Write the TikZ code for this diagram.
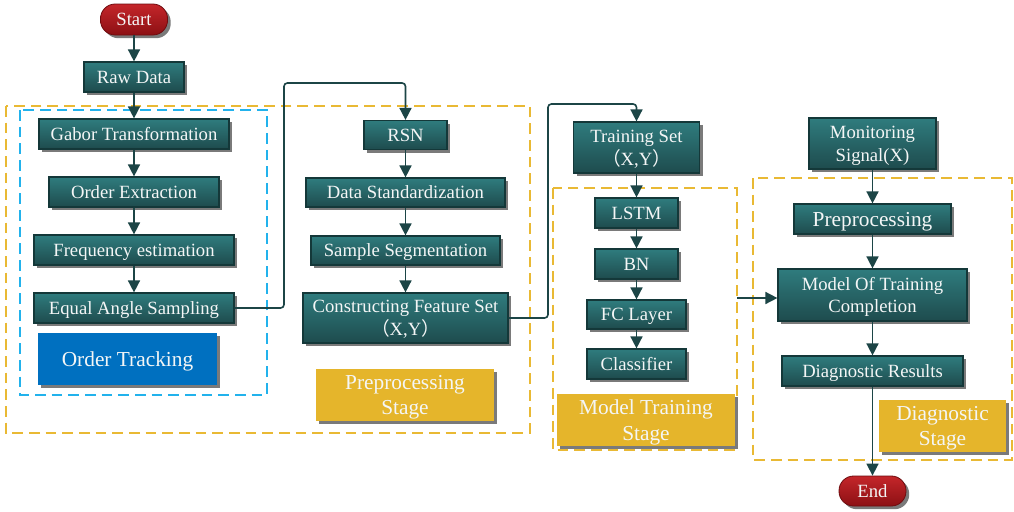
\documentclass[tikz,border=0pt]{standalone}
\usepackage{fontspec}
\setmainfont{Liberation Serif}
\newfontfamily\cjk{Noto Sans CJK SC}
\usetikzlibrary{arrows.meta,shadows,backgrounds}

\definecolor{tealtop}{HTML}{2F7C7E}
\definecolor{tealbot}{HTML}{1E4B4D}
\definecolor{tealedge}{HTML}{143839}
\definecolor{linkcol}{HTML}{1C4546}
\definecolor{redtop}{HTML}{C4262A}
\definecolor{redbot}{HTML}{8C1014}
\definecolor{rededge}{HTML}{6E0C0F}
\definecolor{stageyellow}{HTML}{E5B52B}
\definecolor{dashyellow}{HTML}{E9B934}
\definecolor{dashblue}{HTML}{22B2EC}
\definecolor{trackblue}{HTML}{0070C0}
\definecolor{shadowgray}{HTML}{7A7A7A}
\definecolor{lighttext}{HTML}{F4F6F6}

\tikzset{
  shade drop/.style={drop shadow={shadow xshift=2.4pt, shadow yshift=-2.4pt, fill=shadowgray, opacity=1}},
  wd/.style={minimum width=#1*0.75pt},
  ht/.style={minimum height=#1*0.75pt},
  % single-line labels: centre the capitals, ignore descenders
  oneline/.style={text height=9.3pt, text depth=0pt},
  onelinebig/.style={text height=10.6pt, text depth=0pt},
  % two-line labels: ignore the descenders of the last line
  twoline/.style={text depth=0pt},
  box/.style={shade drop, draw=tealedge, line width=0.9pt,
    top color=tealtop, bottom color=tealbot, text=lighttext,
    font=\fontsize{14}{17}\selectfont, align=center, inner sep=0pt},
  term/.style={shade drop, draw=rededge, line width=0.6pt,
    top color=redtop, bottom color=redbot, text=lighttext,
    rounded corners=11pt, font=\fontsize{14}{17}\selectfont, inner sep=0pt, oneline},
  stagebox/.style={shade drop, fill=stageyellow, text=lighttext,
    font=\fontsize{16}{19}\selectfont, align=center, inner sep=0pt},
  trackbox/.style={shade drop, fill=trackblue, text=lighttext,
    font=\fontsize{16}{19}\selectfont, align=center, inner sep=0pt},
  conn/.style={draw=linkcol, line width=1.2pt, rounded corners=2.5pt,
    -{Triangle[length=9pt,width=9pt]}},
  ydash/.style={draw=dashyellow, line width=1.5pt, dash pattern=on 8pt off 4.5pt},
  bdash/.style={draw=dashblue, line width=1.5pt, dash pattern=on 8pt off 4.5pt},
}

\begin{document}
\begin{tikzpicture}[x=0.75pt, y=-0.75pt]
\useasboundingbox (0,0) rectangle (1014,511);

% ---- order tracking column ----
\node[term, wd=67, ht=31] (start) at (134,19.5) {Start};
\node[box, oneline, wd=100, ht=30] (raw) at (134,77) {Raw Data};
\node[box, oneline, wd=190, ht=30] (gabor) at (134,134) {Gabor Transformation};
\node[box, oneline, wd=170, ht=30] (order) at (134,192) {Order Extraction};
\node[box, oneline, wd=200, ht=30] (freq) at (134,250) {Frequency estimation};
\node[box, oneline, wd=200, ht=30] (equal) at (134,308) {Equal Angle Sampling};
\node[trackbox, onelinebig, wd=179, ht=52] (track) at (127.5,359) {Order Tracking};

% ---- preprocessing column ----
\node[box, oneline, wd=83, ht=29] (rsn) at (405.5,135) {RSN};
\node[box, oneline, wd=199, ht=29] (stdz) at (405.5,192.5) {Data Standardization};
\node[box, oneline, wd=189, ht=29] (seg) at (405.5,250.5) {Sample Segmentation};
\node[box, twoline, wd=205, ht=50] (feat) at (405.5,318) {Constructing Feature Set\\{\cjk （}X,Y{\cjk ）}};
\node[stagebox, twoline, wd=178, ht=52] (prepstage) at (405,395) {Preprocessing\\Stage};

% ---- model training column ----
\node[box, twoline, wd=126, ht=51] (train) at (636.5,147.5) {Training Set\\{\cjk （}X,Y{\cjk ）}};
\node[box, oneline, wd=83, ht=30] (lstm) at (636.5,213) {LSTM};
\node[box, oneline, wd=83, ht=30] (bn) at (636.5,264) {BN};
\node[box, oneline, wd=99, ht=29] (fc) at (636.5,314.5) {FC Layer};
\node[box, oneline, wd=99, ht=30] (cls) at (636.5,364) {Classifier};
\node[stagebox, twoline, wd=178, ht=52] (trainstage) at (646,420) {Model Training\\Stage};

% ---- diagnostic column ----
\node[box, twoline, wd=127, ht=51] (mon) at (872.5,143.5) {Monitoring\\Signal(X)};
\node[box, onelinebig, wd=157, ht=30, font=\fontsize{16}{19}\selectfont] (prep) at (872.5,219) {Preprocessing};
\node[box, twoline, wd=189, ht=52] (model) at (872.5,295) {Model Of Training\\Completion};
\node[box, oneline, wd=181, ht=30] (diag) at (872.5,371) {Diagnostic Results};
\node[stagebox, twoline, wd=127, ht=52] (diagstage) at (942.5,426) {Diagnostic\\Stage};
\node[term, wd=67, ht=30] (end) at (872.5,491) {End};

% ---- stage frames ----
\begin{pgfonlayer}{background}
  \fill[white] (0,0) rectangle (1014,511);
  \draw[ydash] (6,106) rectangle (530,433);
  \draw[bdash] (20,110) rectangle (267,395);
  \draw[ydash] (553,188) rectangle (737,450);
  \draw[ydash] (753,178) rectangle (1012,460);
\end{pgfonlayer}

% ---- connectors ----
\coordinate (hopA) at (284,83);
\coordinate (hopB) at (548,104);
\coordinate (mtedge) at (737,298);

\draw[conn] (start) -- (raw);
\draw[conn] (raw) -- (gabor);
\draw[conn] (gabor) -- (order);
\draw[conn] (order) -- (freq);
\draw[conn] (freq) -- (equal);
\draw[conn] (equal.east) -| (hopA) -| (rsn.north);

\draw[conn] (rsn) -- (stdz);
\draw[conn] (stdz) -- (seg);
\draw[conn] (seg) -- (feat);
\draw[conn] (feat.east) -| (hopB) -| (train.north);

\draw[conn] (train) -- (lstm);
\draw[conn] (lstm) -- (bn);
\draw[conn] (bn) -- (fc);
\draw[conn] (fc) -- (cls);

\draw[conn] (mtedge) -- (mtedge -| model.west);
\draw[conn] (mon) -- (prep);
\draw[conn] (prep) -- (model);
\draw[conn] (model) -- (diag);
\draw[conn] (diag) -- (end);
\end{tikzpicture}
\end{document}
